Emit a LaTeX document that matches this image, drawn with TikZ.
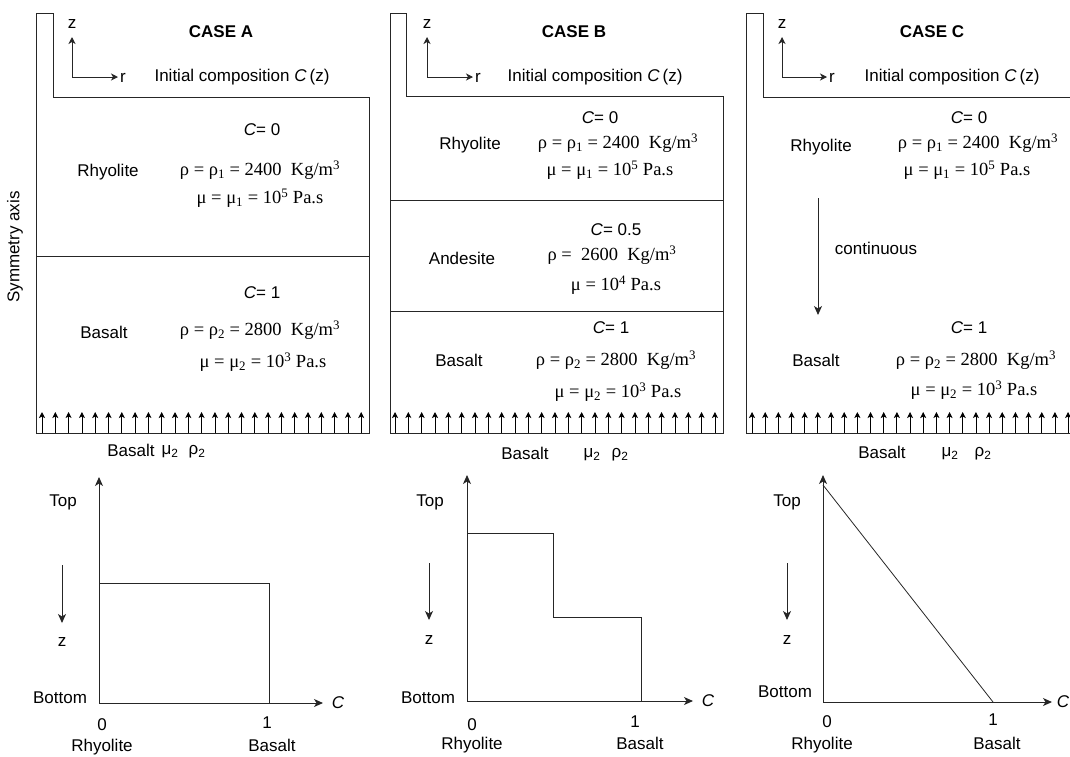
\documentclass[tikz,border=0pt]{standalone}
\usepackage{fontspec}
\setmainfont{Liberation Sans}
\newfontfamily\tnr{Liberation Serif}
\usetikzlibrary{arrows.meta}
\begin{document}
\begin{tikzpicture}[x=1pt,y=-1pt,
  wall/.style={draw=black!85, line width=1pt},
  lbl/.style={font=\fontsize{17}{19}\selectfont, inner sep=0pt},
  frm/.style={font=\tnr\fontsize{18.5}{20}\selectfont, inner sep=0pt},
  head/.style={font=\bfseries\fontsize{17}{19}\selectfont, inner sep=0pt},
  ax/.style={draw=black!85, line width=1pt, -{Stealth[length=9pt,width=8pt,inset=2.5pt]}},
  tri/.style={draw=black!85, line width=1pt, -{Stealth[length=7pt,width=7pt,inset=2pt]}},
  flux/.style={draw=black, line width=0.8pt, -{Stealth[length=6pt,width=6pt,inset=1.5pt]}},
]
\useasboundingbox (0,0) rectangle (1070,756);

% ================= CASE A =================
\draw[wall] (36,433) -- (36,13) -- (53,13) -- (53,97) -- (369,97) -- (369,433) -- cycle;
\draw[wall] (36,256) -- (369,256);
\foreach \i in {0,...,24}{
  \coordinate (fa0\i) at (42+13.3*\i,433);
  \coordinate (fa1\i) at (42+13.3*\i,412);
  \draw[flux] (fa0\i) -- (fa1\i);
}
\coordinate (Ao) at (72,77); \coordinate (Az) at (72,37); \coordinate (Ar) at (118,77);
\draw[tri] (Ao) -- (Az);
\draw[tri] (Ao) -- (Ar);
\node[lbl] (Azl) at (72,24) {z};
\node[lbl, anchor=west] (Arl) at (120,78) {r};
\node[head] (Ahead) at (221,32) {CASE A};
\node[lbl] (Ainit) at (242,77) {Initial composition \textit{C}\,(z)};
\node[lbl] (Ac0) at (262,130) {\textit{C}= 0};
\node[lbl] (Arhy) at (108,172) {Rhyolite};
\node[frm] (Arho1) at (260,170) {ρ = ρ\textsubscript{1} = 2400\hspace{0.5em}Kg/m\textsuperscript{3}};
\node[frm] (Amu1) at (260,198) {μ = μ\textsubscript{1} = 10\textsuperscript{5} Pa.s};
\node[lbl] (Ac1) at (262,293) {\textit{C}= 1};
\node[lbl] (Abas) at (104,332) {Basalt};
\node[frm] (Arho2) at (260,330) {ρ = ρ\textsubscript{2} = 2800\hspace{0.5em}Kg/m\textsuperscript{3}};
\node[frm] (Amu2) at (263,362) {μ = μ\textsubscript{2} = 10\textsuperscript{3} Pa.s};
\node[lbl] (Abb) at (131,450) {Basalt};
\node[lbl] (Abm) at (170,452) {μ\textsubscript{2}};
\node[lbl] (Abr) at (197,452) {ρ\textsubscript{2}};
\node[lbl, rotate=90] (sym) at (15,247) {Symmetry axis};

% graph A
\coordinate (gAo) at (99,703); \coordinate (gAy) at (99,477); \coordinate (gAx) at (323,703);
\draw[ax] (gAo) -- (gAy);
\draw[ax] (gAo) -- (gAx);
\coordinate (gA1) at (99,583); \coordinate (gA2) at (269,583); \coordinate (gA3) at (269,703);
\draw[wall] (gA1) -- (gA2) -- (gA3);
\node[lbl] (gAC) at (338,703) {\textit{C}};
\node[lbl] (gAtop) at (63,502) {Top};
\coordinate (gAd1) at (62,565); \coordinate (gAd2) at (62,623);
\draw[ax] (gAd1) -- (gAd2);
\node[lbl] (gAz) at (62,642) {z};
\node[lbl] (gAbot) at (60,698) {Bottom};
\node[lbl] (gA0) at (102,725) {0};
\node[lbl] (gA1l) at (267,723) {1};
\node[lbl] (gArhy) at (102,747) {Rhyolite};
\node[lbl] (gAbas) at (272,745) {Basalt};

% ================= CASE B =================
\draw[wall] (390,433) -- (390,13) -- (406,13) -- (406,96) -- (723,96) -- (723,433) -- cycle;
\draw[wall] (390,200) -- (723,200);
\draw[wall] (390,311) -- (723,311);
\foreach \i in {0,...,24}{
  \coordinate (fb0\i) at (395+13.33*\i,433);
  \coordinate (fb1\i) at (395+13.33*\i,412);
  \draw[flux] (fb0\i) -- (fb1\i);
}
\coordinate (Bo) at (427,77); \coordinate (Bz) at (427,37); \coordinate (Br) at (473,77);
\draw[tri] (Bo) -- (Bz);
\draw[tri] (Bo) -- (Br);
\node[lbl] (Bzl) at (427,24) {z};
\node[lbl, anchor=west] (Brl) at (475,78) {r};
\node[head] (Bhead) at (574,32) {CASE B};
\node[lbl] (Binit) at (595,77) {Initial composition \textit{C}\,(z)};
\node[lbl] (Bc0) at (600,118) {\textit{C}= 0};
\node[lbl] (Brhy) at (470,145) {Rhyolite};
\node[frm] (Brho1) at (618,143) {ρ = ρ\textsubscript{1} = 2400\hspace{0.5em}Kg/m\textsuperscript{3}};
\node[frm] (Bmu1) at (610,170) {μ = μ\textsubscript{1} = 10\textsuperscript{5} Pa.s};
\node[lbl] (Bc5) at (616,230) {\textit{C}= 0.5};
\node[lbl] (Band) at (462,258) {Andesite};
\node[frm] (Brho3) at (612,255) {ρ =\hspace{0.5em}2600\hspace{0.5em}Kg/m\textsuperscript{3}};
\node[frm] (Bmu3) at (616,285) {μ = 10\textsuperscript{4} Pa.s};
\node[lbl] (Bc1) at (611,328) {\textit{C}= 1};
\node[lbl] (Bbas) at (459,360) {Basalt};
\node[frm] (Brho2) at (616,360) {ρ = ρ\textsubscript{2} = 2800\hspace{0.5em}Kg/m\textsuperscript{3}};
\node[frm] (Bmu2) at (618,392) {μ = μ\textsubscript{2} = 10\textsuperscript{3} Pa.s};
\node[lbl] (Bbb) at (525,453) {Basalt};
\node[lbl] (Bbm) at (592,455) {μ\textsubscript{2}};
\node[lbl] (Bbr) at (620,455) {ρ\textsubscript{2}};

% graph B
\coordinate (gBo) at (467,701); \coordinate (gBy) at (467,475); \coordinate (gBx) at (693,701);
\draw[ax] (gBo) -- (gBy);
\draw[ax] (gBo) -- (gBx);
\coordinate (gB1) at (467,533); \coordinate (gB2) at (553,533); \coordinate (gB3) at (553,617);
\coordinate (gB4) at (641,617); \coordinate (gB5) at (641,701);
\draw[wall] (gB1) -- (gB2) -- (gB3) -- (gB4) -- (gB5);
\node[lbl] (gBC) at (708,701) {\textit{C}};
\node[lbl] (gBtop) at (430,502) {Top};
\coordinate (gBd1) at (429,563); \coordinate (gBd2) at (429,620);
\draw[ax] (gBd1) -- (gBd2);
\node[lbl] (gBz) at (429,640) {z};
\node[lbl] (gBbot) at (428,698) {Bottom};
\node[lbl] (gB0) at (472,725) {0};
\node[lbl] (gB1l) at (635,722) {1};
\node[lbl] (gBrhy) at (472,745) {Rhyolite};
\node[lbl] (gBbas) at (640,743) {Basalt};

% ================= CASE C =================
\draw[wall] (1071,433) -- (746,433) -- (746,13) -- (763,13) -- (763,97) -- (1071,97);
\foreach \i in {0,...,24}{
  \coordinate (fc0\i) at (752+13.17*\i,433);
  \coordinate (fc1\i) at (752+13.17*\i,412);
  \draw[flux] (fc0\i) -- (fc1\i);
}
\coordinate (Co) at (782,77); \coordinate (Cz) at (782,37); \coordinate (Cr) at (827,77);
\draw[tri] (Co) -- (Cz);
\draw[tri] (Co) -- (Cr);
\node[lbl] (Czl) at (782,24) {z};
\node[lbl, anchor=west] (Crl) at (829,78) {r};
\node[head] (Chead) at (932,32) {CASE C};
\node[lbl] (Cinit) at (952,77) {Initial composition \textit{C}\,(z)};
\node[lbl] (Cc0) at (969,118) {\textit{C}= 0};
\node[lbl] (Crhy) at (821,147) {Rhyolite};
\node[frm] (Crho1) at (978,143) {ρ = ρ\textsubscript{1} = 2400\hspace{0.5em}Kg/m\textsuperscript{3}};
\node[frm] (Cmu1) at (967,170) {μ = μ\textsubscript{1} = 10\textsuperscript{5} Pa.s};
\coordinate (Cc1a) at (818,198); \coordinate (Cc1b) at (818,315);
\draw[ax] (Cc1a) -- (Cc1b);
\node[lbl] (Ccont) at (876,248) {continuous};
\node[lbl] (Cc1) at (969,328) {\textit{C}= 1};
\node[lbl] (Cbas) at (816,360) {Basalt};
\node[frm] (Crho2) at (976,360) {ρ = ρ\textsubscript{2} = 2800\hspace{0.5em}Kg/m\textsuperscript{3}};
\node[frm] (Cmu2) at (974,390) {μ = μ\textsubscript{2} = 10\textsuperscript{3} Pa.s};
\node[lbl] (Cbb) at (882,452) {Basalt};
\node[lbl] (Cbm) at (950,454) {μ\textsubscript{2}};
\node[lbl] (Cbr) at (983,454) {ρ\textsubscript{2}};

% graph C
\coordinate (gCo) at (823,702); \coordinate (gCy) at (823,475); \coordinate (gCx) at (1052,702);
\draw[ax] (gCo) -- (gCy);
\draw[ax] (gCo) -- (gCx);
\coordinate (gC1) at (823,485); \coordinate (gC2) at (993,702);
\draw[draw=black!85, line width=0.8pt] (gC1) -- (gC2);
\node[lbl] (gCC) at (1063,702) {\textit{C}};
\node[lbl] (gCtop) at (787,502) {Top};
\coordinate (gCd1) at (787,563); \coordinate (gCd2) at (787,620);
\draw[ax] (gCd1) -- (gCd2);
\node[lbl] (gCz) at (787,640) {z};
\node[lbl] (gCbot) at (785,692) {Bottom};
\node[lbl] (gC0) at (827,722) {0};
\node[lbl] (gC1l) at (993,720) {1};
\node[lbl] (gCrhy) at (822,745) {Rhyolite};
\node[lbl] (gCbas) at (997,743) {Basalt};
\end{tikzpicture}
\end{document}
